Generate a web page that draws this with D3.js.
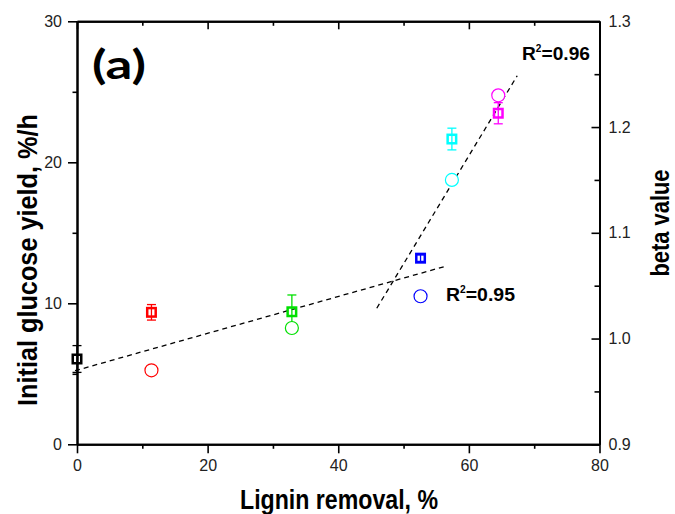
<!DOCTYPE html>
<html lang="en">
<head>
<meta charset="UTF-8">
<title>Lignin removal vs glucose yield</title>
<script src="https://d3js.org/d3.v7.min.js"></script>
<style>
    body { margin: 0; background: #fff; }
    svg { display: block; }
    text { font-family: "Liberation Sans", Arial, sans-serif; }
</style>
</head>
<body>
<div id="chart"></div>
<script>
// data
var lignin    = [0, 11.4, 32.9, 52.6, 57.4, 64.5];          // Lignin removal, %
var yieldVals = [6.05, 9.36, 9.4, 13.2, 21.65, 23.48];     // Initial glucose yield, %/h (squares)
var yieldErr  = [0.95, 0.55, 1.19, 0.23, 0.77, 0.75];
var betaVals  = [null, 0.97, 1.01, 1.04, 1.15, 1.23];      // beta value (circles, right axis)
var colors    = ["#000000", "#ff0000", "#00e000", "#0000ff", "#00ffff", "#ff00ff"];

// dashed fit lines (yield units)
var fitLowX  = [-0.3, 56.6],  fitLowY  = [5.22, 12.65];
var fitHighX = [45.9, 67.4],  fitHighY = [9.65, 26.14];

var xTicks = [0, 20, 40, 60, 80], xMinor = [10, 30, 50, 70];
var yTicks = [0, 10, 20, 30], yMinor = [5, 15, 25];
var bTicks = [0.9, 1.0, 1.1, 1.2, 1.3], bMinor = [0.95, 1.05, 1.15, 1.25];

var W = 675, H = 514;
var pL = 77, pR = 599.5, pT = 21.3, pB = 444.3;

var svg = d3.select("#chart").append("svg")
    .attr("width", W).attr("height", H);

var x = d3.scaleLinear().domain([0, 80]).range([pL, pR]);
var y = d3.scaleLinear().domain([0, 30]).range([pB, pT]);
var yb = d3.scaleLinear().domain([0.9, 1.3]).range([pB, pT]);

function styleAxis(g) {
    g.attr("font-size", 16).attr("font-family", "'Liberation Sans', Arial, sans-serif");
    g.select(".domain").attr("stroke", "#000").attr("stroke-width", 2);
    g.selectAll(".tick line").attr("stroke", "#000").attr("stroke-width", 1.6);
    g.selectAll(".tick text").attr("fill", "#222");
}

// bottom axis (outward ticks)
svg.append("g").attr("transform", "translate(0," + pB + ")")
    .call(d3.axisBottom(x).tickValues(xTicks).tickSize(9).tickSizeOuter(0).tickPadding(6).tickFormat(d3.format("d")))
    .call(styleAxis);
svg.append("g").attr("transform", "translate(0," + pB + ")")
    .call(d3.axisBottom(x).tickValues(xMinor).tickSize(4.5).tickSizeOuter(0).tickFormat(""))
    .call(styleAxis);

// top axis (inward ticks)
svg.append("g").attr("transform", "translate(0," + pT + ")")
    .call(d3.axisBottom(x).tickValues(xTicks).tickSize(8).tickSizeOuter(0).tickFormat(""))
    .call(styleAxis);
svg.append("g").attr("transform", "translate(0," + pT + ")")
    .call(d3.axisBottom(x).tickValues(xMinor).tickSize(4.5).tickSizeOuter(0).tickFormat(""))
    .call(styleAxis);

// left axis (outward ticks)
svg.append("g").attr("transform", "translate(" + pL + ",0)")
    .call(d3.axisLeft(y).tickValues(yTicks).tickSize(9).tickSizeOuter(0).tickPadding(6).tickFormat(d3.format("d")))
    .call(styleAxis);
svg.append("g").attr("transform", "translate(" + pL + ",0)")
    .call(d3.axisLeft(y).tickValues(yMinor).tickSize(4.5).tickSizeOuter(0).tickFormat(""))
    .call(styleAxis);

// right axis (inward ticks, labels outside)
svg.append("g").attr("transform", "translate(" + pR + ",0)")
    .call(d3.axisLeft(yb).tickValues(bTicks).tickSize(8).tickSizeOuter(0).tickFormat(""))
    .call(styleAxis);
svg.append("g").attr("transform", "translate(" + pR + ",0)")
    .call(d3.axisLeft(yb).tickValues(bMinor).tickSize(5).tickSizeOuter(0).tickFormat(""))
    .call(styleAxis);
svg.append("g").attr("transform", "translate(" + pR + ",0)")
    .call(d3.axisRight(yb).tickValues(bTicks).tickSize(0).tickSizeOuter(0).tickPadding(9).tickFormat(d3.format(".1f")))
    .call(styleAxis)
    .call(function(g) { g.select(".domain").remove(); });

// dashed fit lines
var line = d3.line().x(function(d) { return x(d[0]); }).y(function(d) { return y(d[1]); });
[[fitLowX, fitLowY], [fitHighX, fitHighY]].forEach(function(f) {
    svg.append("path")
        .datum(d3.zip(f[0], f[1]))
        .attr("d", line)
        .attr("fill", "none")
        .attr("stroke", "#000")
        .attr("stroke-width", 1.3)
        .attr("stroke-dasharray", "5,4");
});

var idx = d3.range(lignin.length);

// error bars
var eb = svg.append("g").selectAll("g").data(idx).enter().append("g")
    .attr("stroke", function(i) { return colors[i]; })
    .attr("stroke-width", 1.3);
eb.append("line")
    .attr("x1", function(i) { return x(lignin[i]); })
    .attr("x2", function(i) { return x(lignin[i]); })
    .attr("y1", function(i) { return y(yieldVals[i] - yieldErr[i]); })
    .attr("y2", function(i) { return y(yieldVals[i] + yieldErr[i]); });
[-1, 1].forEach(function(s) {
    eb.append("line")
        .attr("x1", function(i) { return x(lignin[i]) - 4.5; })
        .attr("x2", function(i) { return x(lignin[i]) + 4.5; })
        .attr("y1", function(i) { return y(yieldVals[i] + s * yieldErr[i]); })
        .attr("y2", function(i) { return y(yieldVals[i] + s * yieldErr[i]); });
});

// squares (yield)
var sq = 8.5;
svg.append("g").selectAll("rect").data(idx).enter().append("rect")
    .attr("x", function(i) { return x(lignin[i]) - sq / 2; })
    .attr("y", function(i) { return y(yieldVals[i]) - sq / 2; })
    .attr("width", sq).attr("height", sq)
    .attr("fill", "none")
    .attr("stroke", function(i) { return colors[i]; })
    .attr("stroke-width", 2.5);

// circles (beta)
svg.append("g").selectAll("circle").data(idx.filter(function(i) { return betaVals[i] != null; }))
    .enter().append("circle")
    .attr("cx", function(i) { return x(lignin[i]); })
    .attr("cy", function(i) { return yb(betaVals[i]); })
    .attr("r", 6.5)
    .attr("fill", "#fff")
    .attr("stroke", function(i) { return colors[i]; })
    .attr("stroke-width", 1.2);

// panel label
svg.append("text")
    .attr("x", 92).attr("y", 79)
    .attr("textLength", 54).attr("lengthAdjust", "spacingAndGlyphs")
    .style("font-family", "Lato, 'Open Sans', sans-serif")
    .style("font-weight", "bold").style("font-size", "41px")
    .text("(a)");

// R² labels
function r2(xp, yp, val, len) {
    var t = svg.append("text").attr("x", xp).attr("y", yp)
        .attr("textLength", len).attr("lengthAdjust", "spacingAndGlyphs")
        .style("font-weight", "bold").style("font-size", "19px");
    t.append("tspan").text("R");
    t.append("tspan").attr("dy", -8).style("font-size", "10px").text("2");
    t.append("tspan").attr("dy", 8).text("=" + val);
}
r2(522, 60, "0.96", 68);
r2(446, 301, "0.95", 69);

// axis titles
svg.append("text")
    .attr("x", 339).attr("y", 509)
    .attr("text-anchor", "middle")
    .attr("textLength", 198).attr("lengthAdjust", "spacingAndGlyphs")
    .style("font-weight", "bold").style("font-size", "27px")
    .text("Lignin removal, %");

svg.append("text")
    .attr("transform", "translate(37,260) rotate(-90)")
    .attr("text-anchor", "middle")
    .attr("textLength", 292).attr("lengthAdjust", "spacingAndGlyphs")
    .style("font-weight", "bold").style("font-size", "28px")
    .text("Initial glucose yield, %/h");

svg.append("text")
    .attr("transform", "translate(669,223) rotate(-90)")
    .attr("text-anchor", "middle")
    .attr("textLength", 107).attr("lengthAdjust", "spacingAndGlyphs")
    .style("font-weight", "bold").style("font-size", "25px")
    .text("beta value");
</script>
</body>
</html>
